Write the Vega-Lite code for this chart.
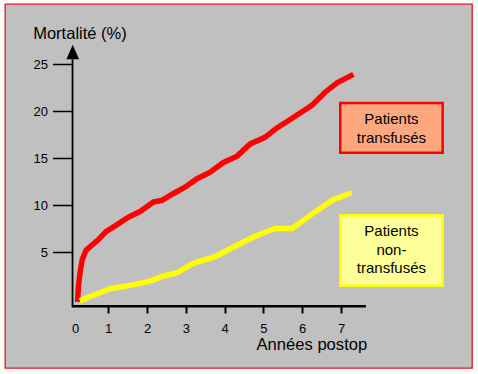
{
  "$schema": "https://vega.github.io/schema/vega-lite/v6.json",
  "width": 467,
  "height": 364,
  "autosize": {"type": "none"},
  "padding": {"left": 5, "top": 4, "right": 6, "bottom": 6},
  "background": "white",
  "config": {
    "font": "Liberation Sans",
    "view": {"fill": "#c0c0c0", "stroke": "#e8141e", "strokeWidth": 1.3}
  },
  "datasets": {
    "courbes": [
      {"groupe": "transfusés", "annee": 0.21, "mortalite": -0.3},
      {"groupe": "transfusés", "annee": 0.23, "mortalite": 1.2},
      {"groupe": "transfusés", "annee": 0.27, "mortalite": 2.7},
      {"groupe": "transfusés", "annee": 0.33, "mortalite": 4.2},
      {"groupe": "transfusés", "annee": 0.43, "mortalite": 5.2},
      {"groupe": "transfusés", "annee": 0.74, "mortalite": 6.3},
      {"groupe": "transfusés", "annee": 0.95, "mortalite": 7.2},
      {"groupe": "transfusés", "annee": 1.26, "mortalite": 8.0},
      {"groupe": "transfusés", "annee": 1.52, "mortalite": 8.7},
      {"groupe": "transfusés", "annee": 1.82, "mortalite": 9.3},
      {"groupe": "transfusés", "annee": 2.16, "mortalite": 10.3},
      {"groupe": "transfusés", "annee": 2.39, "mortalite": 10.5},
      {"groupe": "transfusés", "annee": 2.67, "mortalite": 11.2},
      {"groupe": "transfusés", "annee": 2.98, "mortalite": 11.9},
      {"groupe": "transfusés", "annee": 3.29, "mortalite": 12.8},
      {"groupe": "transfusés", "annee": 3.63, "mortalite": 13.5},
      {"groupe": "transfusés", "annee": 3.96, "mortalite": 14.5},
      {"groupe": "transfusés", "annee": 4.32, "mortalite": 15.2},
      {"groupe": "transfusés", "annee": 4.66, "mortalite": 16.5},
      {"groupe": "transfusés", "annee": 5.04, "mortalite": 17.2},
      {"groupe": "transfusés", "annee": 5.35, "mortalite": 18.2},
      {"groupe": "transfusés", "annee": 5.69, "mortalite": 19.1},
      {"groupe": "transfusés", "annee": 6.25, "mortalite": 20.6},
      {"groupe": "transfusés", "annee": 6.59, "mortalite": 22.0},
      {"groupe": "transfusés", "annee": 6.9, "mortalite": 23.0},
      {"groupe": "transfusés", "annee": 7.32, "mortalite": 23.9},
      {"groupe": "non-transfusés", "annee": 0.27, "mortalite": -0.2},
      {"groupe": "non-transfusés", "annee": 0.62, "mortalite": 0.4},
      {"groupe": "non-transfusés", "annee": 1.05, "mortalite": 1.1},
      {"groupe": "non-transfusés", "annee": 1.64, "mortalite": 1.5},
      {"groupe": "non-transfusés", "annee": 2.08, "mortalite": 1.9},
      {"groupe": "non-transfusés", "annee": 2.39, "mortalite": 2.4},
      {"groupe": "non-transfusés", "annee": 2.78, "mortalite": 2.8},
      {"groupe": "non-transfusés", "annee": 3.19, "mortalite": 3.8},
      {"groupe": "non-transfusés", "annee": 3.76, "mortalite": 4.5},
      {"groupe": "non-transfusés", "annee": 4.22, "mortalite": 5.5},
      {"groupe": "non-transfusés", "annee": 4.74, "mortalite": 6.6},
      {"groupe": "non-transfusés", "annee": 5.3, "mortalite": 7.5},
      {"groupe": "non-transfusés", "annee": 5.74, "mortalite": 7.5},
      {"groupe": "non-transfusés", "annee": 6.38, "mortalite": 9.4},
      {"groupe": "non-transfusés", "annee": 6.77, "mortalite": 10.5},
      {"groupe": "non-transfusés", "annee": 7.28, "mortalite": 11.3}
    ],
    "boites": [
      {"groupe": "transfusés", "texte": "Patients|transfusés", "x0": 6.98, "x1": 9.62, "y0": 20.85, "y1": 15.55, "xt": 8.3, "yt": 19.12},
      {"groupe": "non-transfusés", "texte": "Patients|non-|transfusés", "x0": 6.98, "x1": 9.62, "y0": 8.91, "y1": 1.4, "xt": 8.3, "yt": 7.23}
    ],
    "un": [{}]
  },
  "layer": [
    {
      "data": {"name": "boites"},
      "mark": {"type": "rect", "strokeWidth": 2.5},
      "encoding": {
        "x": {"field": "x0", "type": "quantitative", "scale": {"domain": [-1.66, 10.376], "nice": false, "zero": false},
          "axis": {
            "values": [0.15, 1, 2, 3, 4, 5, 6, 7],
            "labelExpr": "datum.value < 0.5 ? '0' : datum.label",
            "offset": -62,
            "domain": false,
            "grid": false,
            "tickColor": {"condition": {"test": "datum.value < 0.5", "value": "transparent"}, "value": "black"},
            "tickSize": 7,
            "tickWidth": 2,
            "labelPadding": 9,
            "labelFontSize": 13,
            "labelColor": "black",
            "labelFlush": false,
            "labelOverlap": false,
            "title": "Années postop",
            "titleFontSize": 16.6,
            "titleFontWeight": "normal",
            "titleColor": "black",
            "titleAlign": "left",
            "titleX": 251,
            "titleY": 38,
            "titleBaseline": "middle"
          }
        },
        "x2": {"field": "x1"},
        "y": {"field": "y0", "type": "quantitative", "scale": {"domain": [-7.34, 31.383], "nice": false, "zero": false},
          "axis": {
            "values": [5, 10, 15, 20, 25],
            "offset": -67.5,
            "domain": false,
            "grid": false,
            "tickSize": 20,
            "tickWidth": 1.5,
            "tickColor": "black",
            "labelPadding": 5,
            "labelAlign": "right",
            "labelBound": false,
            "labelFontSize": 13,
            "labelColor": "black",
            "title": "Mortalité (%)",
            "titleAngle": 0,
            "titleFontSize": 16.5,
            "titleFontWeight": "normal",
            "titleColor": "black",
            "titleAlign": "left",
            "titleBaseline": "middle",
            "titleX": -39.8,
            "titleY": 29.3
          }
        },
        "y2": {"field": "y1"},
        "fill": {
          "field": "groupe", "type": "nominal",
          "scale": {"domain": ["transfusés", "non-transfusés"], "range": ["#ffa880", "#ffff99"]},
          "legend": null
        },
        "stroke": {"field": "groupe", "type": "nominal",
          "scale": {"domain": ["transfusés", "non-transfusés"], "range": ["#ff0000", "#ffff00"]},
          "legend": null}
      }
    },
    {
      "data": {"name": "boites"},
      "mark": {"type": "text", "fontSize": 15, "lineBreak": "|", "lineHeight": 18.5, "align": "center", "baseline": "middle", "color": "black"},
      "encoding": {
        "x": {"field": "xt", "type": "quantitative"},
        "y": {"field": "yt", "type": "quantitative"},
        "text": {"field": "texte"}
      }
    },
    {
      "data": {"name": "courbes"},
      "mark": {"type": "line", "strokeWidth": 5.5, "strokeCap": "butt"},
      "encoding": {
        "x": {"field": "annee", "type": "quantitative"},
        "y": {"field": "mortalite", "type": "quantitative"},
        "stroke": {"field": "groupe", "type": "nominal", "legend": null}
      }
    },
    {
      "data": {"name": "un"},
      "mark": {"type": "rule", "strokeWidth": 1.8, "color": "black"},
      "encoding": {
        "x": {"datum": 0.08, "type": "quantitative"},
        "y": {"datum": -0.78, "type": "quantitative"},
        "y2": {"datum": 25.5}
      }
    },
    {
      "data": {"name": "un"},
      "mark": {"type": "rule", "strokeWidth": 2.5, "color": "black"},
      "encoding": {
        "x": {"datum": 0.06, "type": "quantitative"},
        "x2": {"datum": 7.64},
        "y": {"datum": -0.78, "type": "quantitative"}
      }
    },
    {
      "data": {"name": "un"},
      "mark": {"type": "point", "shape": "M0,-1.15L1,1.15L-1,1.15Z", "size": 161, "filled": true, "color": "black", "opacity": 1},
      "encoding": {
        "x": {"datum": 0.085, "type": "quantitative"},
        "y": {"datum": 26.28, "type": "quantitative"}
      }
    }
  ]
}
